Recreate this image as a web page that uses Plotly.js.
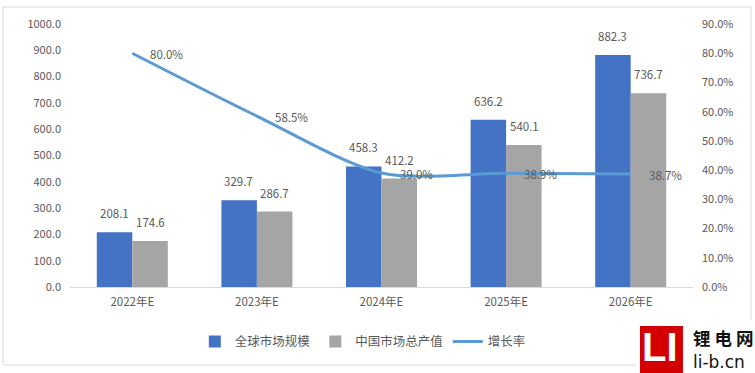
<!DOCTYPE html>
<html>
<head>
<meta charset="utf-8">
<script src="https://cdn.plot.ly/plotly-3.0.1.min.js"></script>
<style>
html,body{margin:0;padding:0;background:#fff;}
#chart{width:755px;height:373px;}
</style>
</head>
<body>
<div id="chart"></div>
<script>
const categories = ['2022年E', '2023年E', '2024年E', '2025年E', '2026年E'];
const globalMarket = [208.1, 329.7, 458.3, 636.2, 882.3];
const chinaOutput = [174.6, 286.7, 412.2, 540.1, 736.7];
const growthRate = [0.800, 0.585, 0.390, 0.389, 0.387];
const seriesNames = ['全球市场规模', '中国市场总产值', '增长率'];
const leftTicks = [0, 100, 200, 300, 400, 500, 600, 700, 800, 900, 1000];
const rightTicks = [0, 0.1, 0.2, 0.3, 0.4, 0.5, 0.6, 0.7, 0.8, 0.9];

const FONT = '"Noto Sans CJK SC", "Noto Sans", sans-serif';
const GREY = '#595959';

const traces = [
  {type: 'bar', name: seriesNames[0], x: categories, y: globalMarket,
   marker: {color: '#4472C4'}, hoverinfo: 'skip'},
  {type: 'bar', name: seriesNames[1], x: categories, y: chinaOutput,
   marker: {color: '#A5A5A5'}, hoverinfo: 'skip'},
  {type: 'scatter', mode: 'lines', name: seriesNames[2], x: categories, y: growthRate,
   yaxis: 'y2', line: {color: '#5B9BD5', width: 3, shape: 'spline', smoothing: 0.8},
   hoverinfo: 'skip'}
];

const annotations = [];
categories.forEach((c, i) => {
  annotations.push({x: c, y: globalMarket[i], xref: 'x', yref: 'y', text: globalMarket[i].toFixed(1),
    showarrow: false, xshift: -18, yshift: 19, yanchor: 'middle', xanchor: 'center',
    font: {family: FONT, size: 11.5, color: GREY}});
  annotations.push({x: c, y: chinaOutput[i], xref: 'x', yref: 'y', text: chinaOutput[i].toFixed(1),
    showarrow: false, xshift: 18, yshift: 19, yanchor: 'middle', xanchor: 'center',
    font: {family: FONT, size: 11.5, color: GREY}});
  annotations.push({x: c, y: growthRate[i], xref: 'x', yref: 'y2', text: (growthRate[i] * 100).toFixed(1) + '%',
    showarrow: false, xshift: 16, yshift: -1, yanchor: 'middle', xanchor: 'left',
    font: {family: FONT, size: 11.5, color: GREY}});
});

// logo (decoration)
annotations.push({xref: 'paper', yref: 'paper', x: 0.9478, y: -0.228, text: '<b>LI</b>',
  showarrow: false, xanchor: 'center', yanchor: 'middle', borderpad: 0,
  font: {family: '"Liberation Sans", Arial, sans-serif', size: 40, color: '#ffffff'}});
annotations.push({xref: 'paper', yref: 'paper', x: 0.9968, y: -0.1939, text: '<b>锂 电 网</b>',
  showarrow: false, xanchor: 'left', yanchor: 'middle',
  font: {family: '"Noto Sans CJK SC", sans-serif', size: 17.5, color: '#111111'}});
annotations.push({xref: 'paper', yref: 'paper', x: 0.9968, y: -0.285, text: 'li-b.cn',
  showarrow: false, xanchor: 'left', yanchor: 'middle',
  font: {family: '"DejaVu Sans", sans-serif', size: 17, color: '#111111'}});

const shapes = [
  {type: 'rect', xref: 'paper', yref: 'paper', x0: -0.1075, x1: 1.0931, y0: -0.2966, y1: 1.0646,
   line: {color: '#D9D9D9', width: 1}, fillcolor: 'rgba(0,0,0,0)', layer: 'below'},
  {type: 'rect', xref: 'paper', yref: 'paper', x0: 0.9085, x1: 1.0995, y0: -0.33, y1: -0.1255,
   line: {width: 0}, fillcolor: '#ffffff', layer: 'above'},
  {type: 'rect', xref: 'paper', yref: 'paper', x0: 0.9149, x1: 0.9839, y0: -0.33, y1: -0.1483,
   line: {width: 0}, fillcolor: '#D40000', layer: 'above'}
];

const layout = {
  width: 755, height: 373,
  margin: {l: 70, r: 62, t: 24, b: 86},
  paper_bgcolor: '#ffffff', plot_bgcolor: '#ffffff',
  font: {family: FONT, color: GREY, size: 11},
  barmode: 'group', bargap: 0.43, bargroupgap: 0,
  showlegend: true,
  legend: {orientation: 'h', x: 0.47, xanchor: 'center', y: -0.209, yanchor: 'middle',
    font: {family: FONT, size: 12.5, color: GREY}, itemwidth: 30, traceorder: 'normal'},
  xaxis: {type: 'category', showline: true, linecolor: '#D9D9D9', linewidth: 1,
    ticks: '', showgrid: false, zeroline: false,
    tickfont: {family: FONT, size: 11.5, color: GREY}, ticklabelstandoff: 4},
  yaxis: {range: [0, 1000], tickvals: leftTicks, tickformat: '.1f', showgrid: false,
    zeroline: false, showline: false, ticks: '', ticklabelstandoff: 8,
    tickfont: {family: FONT, size: 11, color: GREY}},
  yaxis2: {range: [0, 0.9], overlaying: 'y', side: 'right', tickvals: rightTicks, tickformat: '.1%',
    showgrid: false, zeroline: false, showline: false, ticks: '', ticklabelstandoff: 8,
    tickfont: {family: FONT, size: 11, color: GREY}},
  annotations: annotations,
  shapes: shapes
};

Plotly.newPlot('chart', traces, layout, {staticPlot: true, displayModeBar: false});
</script>
</body>
</html>
